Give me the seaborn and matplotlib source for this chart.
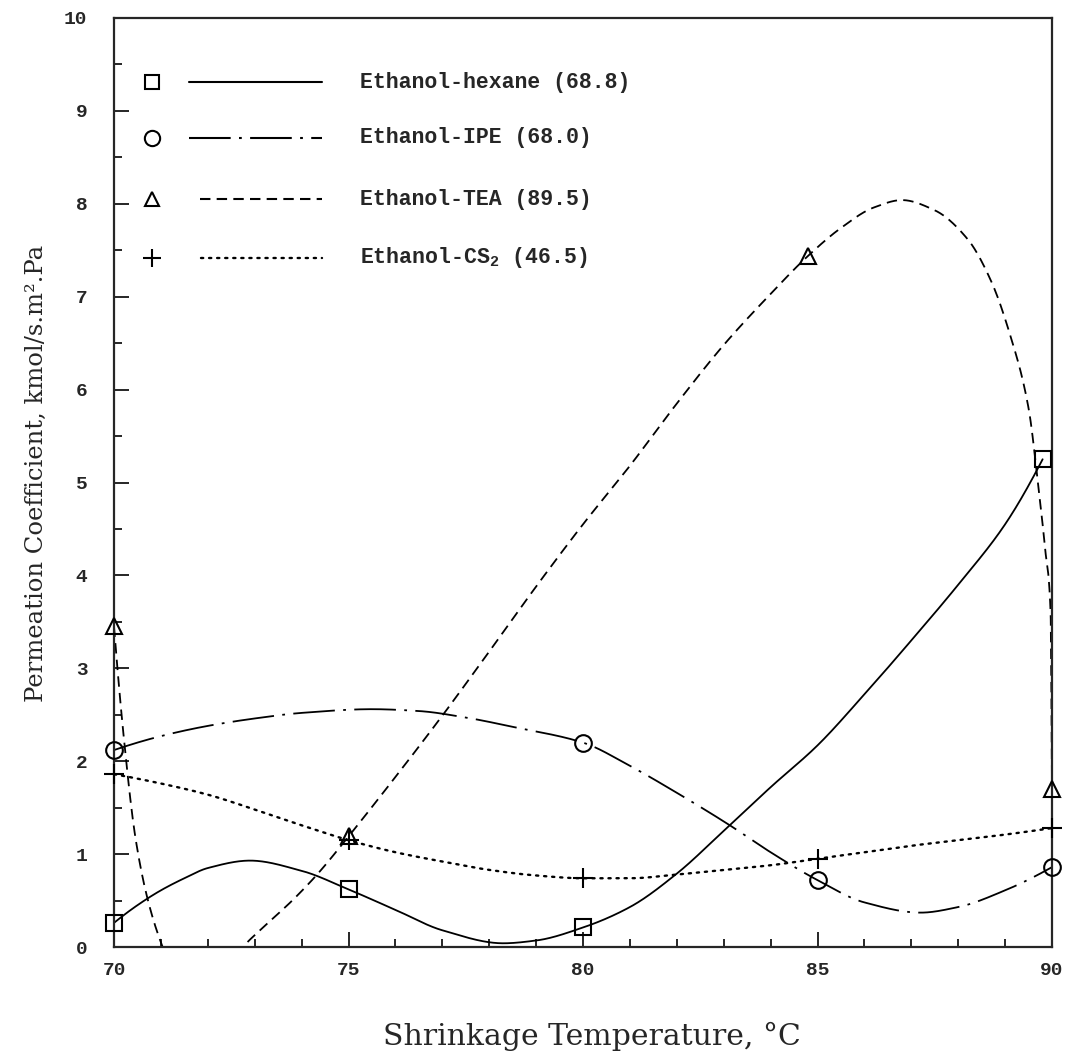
import numpy as np
import pandas as pd
import matplotlib
matplotlib.use("Agg")
import matplotlib.pyplot as plt
import seaborn as sns

# ---- measured points (shrinkage temperature, permeation coefficient) ----
hexane_t = [70, 75, 80, 89.8]
hexane_p = [0.26, 0.62, 0.21, 5.25]

ipe_t = [70, 80, 85, 90]
ipe_p = [2.12, 2.20, 0.72, 0.86]

tea_t = [70, 75, 84.8, 90]
tea_p = [3.45, 1.19, 7.44, 1.70]

cs2_t = [70, 75, 80, 85, 90]
cs2_p = [1.86, 1.15, 0.74, 0.95, 1.28]

# ---- smoothed fit curves through the measurements ----
hexane_fit_t = [70, 70.5, 71, 71.5, 72, 72.9, 74, 75, 76, 77, 78.3, 79, 80,
                81, 82, 83, 84, 85, 86, 87, 88, 89, 89.8]
hexane_fit_p = [0.26, 0.45, 0.61, 0.74, 0.85, 0.93, 0.82, 0.62, 0.40, 0.18,
                0.04, 0.07, 0.21, 0.43, 0.79, 1.25, 1.72, 2.17, 2.72, 3.30,
                3.90, 4.55, 5.25]

ipe_fit_t = [70, 71, 72, 73, 74, 75.5, 76.5, 77.5, 78.5, 80, 81, 82, 83.1,
             84, 85, 86, 87.2, 88, 89, 90]
ipe_fit_p = [2.12, 2.27, 2.38, 2.46, 2.52, 2.56, 2.54, 2.47, 2.37, 2.20,
             1.95, 1.66, 1.32, 1.02, 0.72, 0.48, 0.37, 0.43, 0.61, 0.86]

tea_fit_t = [70, 70.2, 70.45, 70.7, 71.0, 71.4, 71.9, 72.4, 72.75, 73.2,
             73.8, 74.33, 75, 76, 77, 78, 79, 80, 81, 82, 83, 84, 84.8, 85.5,
             86.2, 86.8, 87.5, 88.2, 88.7, 89.1, 89.5, 89.7, 89.85, 89.97, 90]
tea_fit_p = [3.45, 2.30, 1.20, 0.55, 0.05, -0.40, -0.55, -0.25, 0.0, 0.22,
             0.50, 0.78, 1.19, 1.83, 2.49, 3.18, 3.88, 4.55, 5.18, 5.85,
             6.48, 7.03, 7.44, 7.74, 7.96, 8.04, 7.93, 7.62, 7.17, 6.60,
             5.80, 5.00, 4.30, 3.60, 1.70]

cs2_fit_t = list(range(70, 91))
cs2_fit_p = [1.86, 1.76, 1.64, 1.48, 1.31, 1.15, 1.02, 0.92, 0.83, 0.77,
             0.74, 0.74, 0.78, 0.83, 0.88, 0.95, 1.02, 1.09, 1.15, 1.21, 1.28]

series_names = ["Ethanol-hexane (68.8)", "Ethanol-IPE (68.0)",
                "Ethanol-TEA (89.5)", r"Ethanol-CS$_\mathbf{2}$ (46.5)"]


def pchip(xk, yk, xs):
    """Shape-preserving piecewise cubic Hermite interpolation."""
    xk = np.asarray(xk, float)
    yk = np.asarray(yk, float)
    h = np.diff(xk)
    d = np.diff(yk) / h
    m = np.zeros_like(yk)
    for k in range(1, len(xk) - 1):
        if d[k - 1] * d[k] > 0:
            w1 = 2 * h[k] + h[k - 1]
            w2 = h[k] + 2 * h[k - 1]
            m[k] = (w1 + w2) / (w1 / d[k - 1] + w2 / d[k])

    def end(h0, h1, d0, d1):
        s = ((2 * h0 + h1) * d0 - h0 * d1) / (h0 + h1)
        if np.sign(s) != np.sign(d0):
            s = 0.0
        elif np.sign(d0) != np.sign(d1) and abs(s) > abs(3 * d0):
            s = 3 * d0
        return s

    m[0] = end(h[0], h[1], d[0], d[1])
    m[-1] = end(h[-1], h[-2], d[-1], d[-2])
    i = np.clip(np.searchsorted(xk, xs) - 1, 0, len(xk) - 2)
    t = (xs - xk[i]) / h[i]
    return ((2 * t**3 - 3 * t**2 + 1) * yk[i] + (t**3 - 2 * t**2 + t) * h[i] * m[i]
            + (-2 * t**3 + 3 * t**2) * yk[i + 1] + (t**3 - t**2) * h[i] * m[i + 1])


def smooth(xk, yk):
    xs = np.unique(np.concatenate([np.linspace(xk[0], xk[-1], 1500), xk]))
    return pd.DataFrame({"t": xs, "p": pchip(xk, yk, xs)})


sns.set_style("ticks")
plt.rcParams["lines.scale_dashes"] = False
plt.rcParams["mathtext.fontset"] = "custom"
plt.rcParams["mathtext.rm"] = "Liberation Mono"
plt.rcParams["mathtext.bf"] = "Liberation Mono:bold"

MONO = "Liberation Mono"
SERIF = "DejaVu Serif"

W, H = 1078, 1053
X0, X1, Y0, Y1 = 114, 1052, 947, 18      # plot frame in pixels
fig = plt.figure(figsize=(W / 100, H / 100), dpi=100)
ax = fig.add_axes([X0 / W, 1 - Y0 / H, (X1 - X0) / W, (Y0 - Y1) / H])

styles = [
    dict(ls="-", marker="s"),
    dict(ls=(0, (30, 6, 2, 6)), marker="o"),
    dict(ls=(0, (7.5, 4.5)), marker="^"),
    dict(ls=(0, (1.6, 4.2)), marker="+"),
]
fits = [(hexane_fit_t, hexane_fit_p), (ipe_fit_t, ipe_fit_p),
        (tea_fit_t, tea_fit_p), (cs2_fit_t, cs2_fit_p)]
points = [(hexane_t, hexane_p), (ipe_t, ipe_p), (tea_t, tea_p), (cs2_t, cs2_p)]
msizes = {"s": 11, "o": 12, "^": 11, "+": 14}

for (ft, fp), (pt, pp), st in zip(fits, points, styles):
    df = smooth(ft, fp)
    dotted = st["marker"] == "+"
    sns.lineplot(data=df, x="t", y="p", ax=ax, color="black",
                 lw=1.7 if dotted else 1.3,
                 linestyle=st["ls"], estimator=None, sort=False,
                 dash_capstyle="round" if dotted else "butt")
    mdf = pd.DataFrame({"t": pt, "p": pp})
    sns.lineplot(data=mdf, x="t", y="p", ax=ax, linestyle="none",
                 marker=st["marker"], markersize=msizes[st["marker"]],
                 markerfacecolor="none", markeredgecolor="black",
                 markeredgewidth=1.5, color="black", estimator=None,
                 clip_on=False, zorder=4)

ax.set_xlim(70, 90)
ax.set_ylim(0, 10)
ax.set_xticks(np.arange(70, 91, 5))
ax.set_xticks(np.arange(70, 91, 1), minor=True)
ax.set_yticks(np.arange(0, 11, 1))
ax.set_yticks(np.arange(0, 10.01, 0.5), minor=True)
ax.tick_params(which="both", direction="in", top=False, right=False, width=1.4)
ax.tick_params(which="major", length=11)
ax.tick_params(which="minor", length=6)
ax.tick_params(axis="x", which="major", pad=11)
ax.tick_params(axis="y", which="major", pad=19)
for lab in ax.get_xticklabels() + ax.get_yticklabels():
    lab.set_fontfamily(MONO)
    lab.set_fontweight("bold")
    lab.set_fontsize(14)
for sp in ax.spines.values():
    sp.set_linewidth(1.6)

ax.set_xlabel("Shrinkage Temperature, \u00b0C", fontfamily=SERIF, fontsize=21.5)
ax.set_ylabel("Permeation Coefficient, kmol/s.m\u00b2.Pa", fontfamily=SERIF,
              fontsize=17.5)
ax.xaxis.label.set_va("center")
ax.xaxis.set_label_coords(0.51, -0.096)
ax.yaxis.set_label_coords(-0.07, 0.51)

# key: symbol, line sample, then the series name
line_starts = [0.080, 0.080, 0.092, 0.093]
key_rows = [0.931, 0.871, 0.805, 0.742]
for name, st, yk, x_start in zip(series_names, styles, key_rows, line_starts):
    dotted = st["marker"] == "+"
    ax.plot([0.040], [yk], transform=ax.transAxes, marker=st["marker"],
            ms=msizes[st["marker"]] - 1, mfc="none", mec="black", mew=1.5,
            ls="none", clip_on=False)
    ax.plot([x_start, 0.222], [yk, yk], transform=ax.transAxes,
            color="black", lw=1.7 if dotted else 1.5, ls=st["ls"],
            dash_capstyle="round" if dotted else "butt")
    ax.text(0.262, yk, name, transform=ax.transAxes, va="center", ha="left",
            fontfamily=MONO, fontweight="bold", fontsize=15.5)

fig.savefig("out.png", dpi=100)
